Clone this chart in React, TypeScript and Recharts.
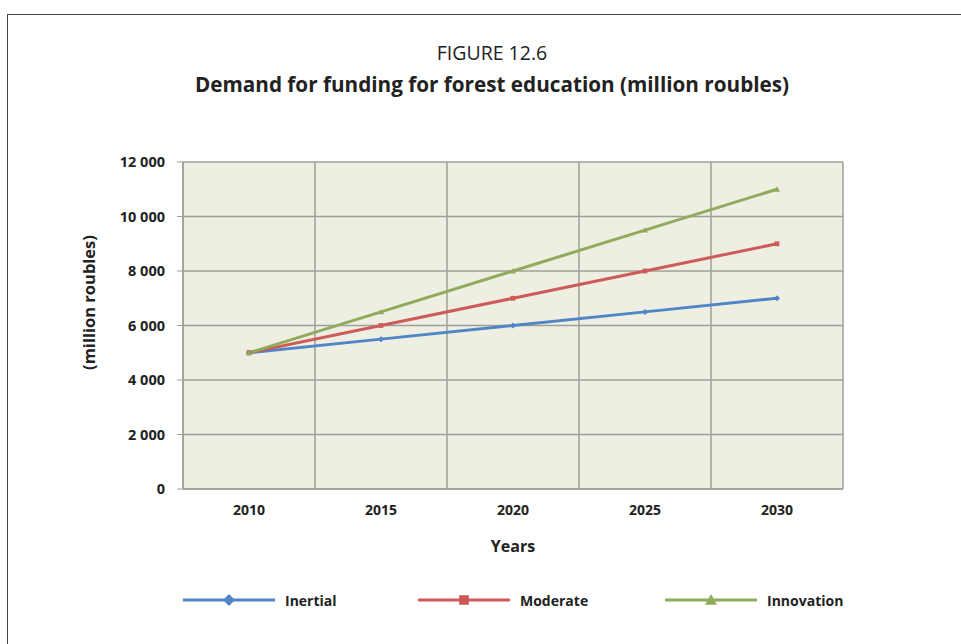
import React from 'react';
import { LineChart, Line, XAxis, YAxis, CartesianGrid, ReferenceLine } from 'recharts';

const years = [2010, 2015, 2020, 2025, 2030];
const inertial = [5000, 5500, 6000, 6500, 7000];
const moderate = [5000, 6000, 7000, 8000, 9000];
const innovation = [5000, 6500, 8000, 9500, 11000];
const yTicks = [0, 2000, 4000, 6000, 8000, 10000, 12000];

const data = years.map((year, i) => ({
  year,
  Inertial: inertial[i],
  Moderate: moderate[i],
  Innovation: innovation[i],
}));

// band edges between the years, like a category axis with gridlines between marks
const step = years[1] - years[0];
const edges = [...years.map((y) => y - step / 2), years[years.length - 1] + step / 2];

const FONT = '"Open Sans", "Noto Sans", sans-serif';
const GRID = '#a09f97';
const SERIES = [
  { key: 'Inertial', color: '#4f86c6', shape: 'diamond' },
  { key: 'Moderate', color: '#cd5b57', shape: 'square' },
  { key: 'Innovation', color: '#8fac5c', shape: 'triangle' },
];

const fmt = (v: number) => String(v).replace(/\B(?=(\d{3})+(?!\d))/g, ' ');

function Marker({ shape, color, cx, cy, size }: { shape: string; color: string; cx: number; cy: number; size: number }) {
  const s = size;
  if (shape === 'diamond') {
    return <polygon points={`${cx},${cy - s} ${cx + s},${cy} ${cx},${cy + s} ${cx - s},${cy}`} fill={color} />;
  }
  if (shape === 'square') {
    return <rect x={cx - s * 0.8} y={cy - s * 0.8} width={s * 1.6} height={s * 1.6} fill={color} />;
  }
  return <polygon points={`${cx},${cy - s} ${cx + s},${cy + s * 0.8} ${cx - s},${cy + s * 0.8}`} fill={color} />;
}

function makeDot(shape: string, color: string) {
  return (props: any) => {
    const { cx, cy, index } = props;
    if (cx == null || cy == null) return <g key={index} />;
    return <Marker key={index} shape={shape} color={color} cx={cx} cy={cy} size={3} />;
  };
}

function ChartLegend() {
  const lefts = [183, 418, 665];
  return (
    <div style={{ position: 'absolute', left: 0, top: 590, height: 24, width: 961 }}>
      {SERIES.map((s, i) => (
        <div key={s.key} style={{ position: 'absolute', left: lefts[i], top: 0, display: 'flex', alignItems: 'center' }}>
          <svg width={92} height={20}>
            <line x1={0} y1={10} x2={92} y2={10} stroke={s.color} strokeWidth={3} />
            <Marker shape={s.shape} color={s.color} cx={46} cy={10} size={6} />
          </svg>
          <span style={{ marginLeft: 10, fontFamily: FONT, fontWeight: 700, fontSize: 14, color: '#222' }}>{s.key}</span>
        </div>
      ))}
    </div>
  );
}

function YLabel(props: any) {
  const { viewBox } = props;
  const x = viewBox.x - 15;
  const y = viewBox.y + viewBox.height / 2 - 23;
  return (
    <text
      x={x}
      y={y}
      transform={`rotate(-90 ${x} ${y})`}
      textAnchor="middle"
      dominantBaseline="central"
      style={{ fontFamily: FONT, fontSize: 16.5, fontWeight: 700, fill: '#222' }}
    >
      (million roubles)
    </text>
  );
}

export default function App() {
  return (
    <div style={{ position: 'absolute', left: 0, top: 0, width: 961, height: 644, background: '#fff', overflow: 'hidden' }}>
      <div style={{ position: 'absolute', left: 7, top: 14, width: 970, height: 650, borderLeft: '1.5px solid #444', borderTop: '1.5px solid #444' }} />
      <div style={{ position: 'absolute', left: 0, top: 39, width: 984, textAlign: 'center', fontFamily: FONT, fontSize: 19.5, color: '#222' }}>
        FIGURE 12.6
      </div>
      <div style={{ position: 'absolute', left: 0, top: 70, width: 984, textAlign: 'center', fontFamily: FONT, fontSize: 20.7, fontWeight: 700, color: '#222' }}>
        Demand for funding for forest education (million roubles)
      </div>
      <div style={{ position: 'absolute', left: 0, top: 0 }}>
        <LineChart width={961} height={644} data={data} margin={{ top: 162, right: 118, bottom: 125, left: 103 }}>
          <CartesianGrid vertical={false} fill="#eeeee3" stroke={GRID} strokeWidth={1.5} />
          {edges.map((e) => (
            <ReferenceLine key={e} x={e} stroke={GRID} strokeWidth={1.5} ifOverflow="extendDomain" />
          ))}
          <XAxis
            dataKey="year"
            type="number"
            domain={[edges[0], edges[edges.length - 1]]}
            ticks={years}
            height={30}
            tickLine={false}
            axisLine={{ stroke: GRID, strokeWidth: 1.5 }}
            tick={{ fontFamily: FONT, fontSize: 14, fontWeight: 700, fill: '#222' }}
            tickMargin={10}
            label={{ value: 'Years', position: 'insideBottom', offset: -33, style: { fontFamily: FONT, fontSize: 16, fontWeight: 700, fill: '#222' } }}
          />
          <YAxis
            domain={[0, 12000]}
            ticks={yTicks}
            width={80}
            tickFormatter={fmt}
            tickSize={6}
            tickMargin={12}
            tickLine={{ stroke: GRID }}
            axisLine={{ stroke: GRID, strokeWidth: 1.5 }}
            tick={{ fontFamily: FONT, fontSize: 14.5, fontWeight: 700, fill: '#222' }}
            label={<YLabel />}
          />
          {SERIES.map((s) => (
            <Line
              key={s.key}
              dataKey={s.key}
              stroke={s.color}
              strokeWidth={3}
              dot={makeDot(s.shape, s.color)}
              isAnimationActive={false}
            />
          ))}
        </LineChart>
      </div>
      <ChartLegend />
    </div>
  );
}
